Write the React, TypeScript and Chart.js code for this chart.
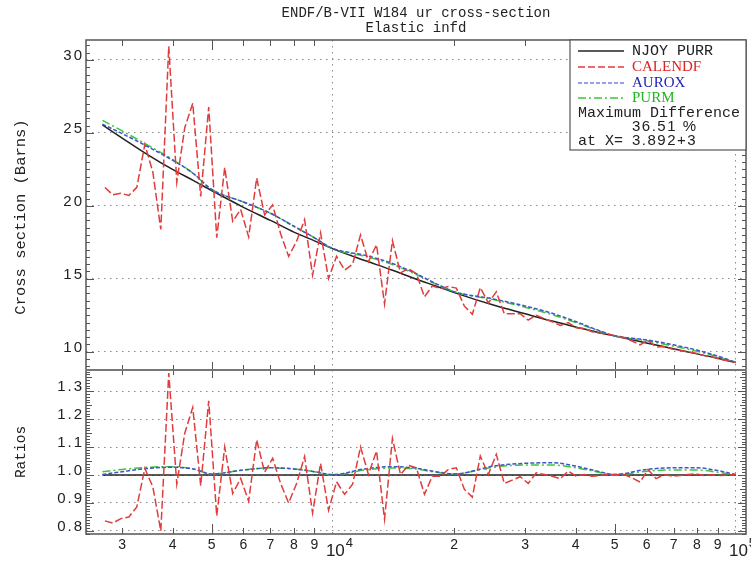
import React, { useEffect, useRef } from 'react';
import { Chart, registerables } from 'chart.js';

Chart.register(...registerables);

// ---------- text ----------
const TITLE_LINES = ['ENDF/B-VII W184 ur cross-section', 'Elastic infd'];
const Y_TITLE_TOP = 'Cross section (Barns)';
const Y_TITLE_BOTTOM = 'Ratios';
const MAX_DIFF_LABEL = 'Maximum Difference';
const MAX_DIFF_VALUE = '36.51 %';
const MAX_DIFF_AT = 'at X=';
const MAX_DIFF_X = '3.892+3';

// ---------- data ----------
const calendfEnergy = [
  2718, 2844, 2977, 3117, 3262, 3415, 3574, 3741, 3915, 4099,
  4290, 4490, 4699, 4919, 5149, 5389, 5641, 5904, 6180, 6469,
  6770, 7087, 7417, 7765, 8127, 8506, 8903, 9319, 9754, 10210,
  10690, 11190, 11710, 12250, 12830, 13430, 14050, 14710, 15390, 16110,
  16870, 17650, 18480, 19340, 20240, 21190, 22180, 23210, 24300, 25430,
  26620, 27860, 29160, 30520, 31950, 33440, 35000, 36630, 38340, 40130,
  42010, 43970, 46020, 48170, 50420, 52770, 55240, 57820, 60510, 63340,
  66300, 69390, 72630, 76020, 79570, 83290, 87180, 91250, 95500, 100000,
];
const calendfXs = [
  21.26, 20.76, 20.86, 20.71, 21.27, 24.21, 22.32, 18.38, 30.94, 21.63,
  25.36, 27.03, 20.64, 26.78, 17.81, 22.63, 18.94, 19.75, 17.87, 21.9,
  19.38, 20.06, 18.09, 16.53, 17.57, 19.06, 15.25, 18.14, 15.01, 16.54,
  15.59, 16.0, 18.0, 16.18, 17.33, 13.28, 17.61, 15.4, 15.69, 15.35,
  13.76, 14.52, 14.33, 14.47, 14.36, 13.12, 12.57, 14.4, 13.34, 14.11,
  12.6, 12.61, 12.61, 12.16, 12.5, 12.27, 12.05, 11.8, 12.0, 11.64,
  11.58, 11.37, 11.27, 11.19, 11.08, 10.97, 10.73, 10.46, 10.79, 10.32,
  10.36, 10.18, 10.08, 10.0, 9.9, 9.73, 9.65, 9.49, 9.38, 9.27,
];
const calendfRatio = [
  0.836, 0.828, 0.844, 0.85, 0.886, 1.024, 0.958, 0.8, 1.365, 0.968,
  1.15, 1.242, 0.962, 1.266, 0.854, 1.1, 0.934, 0.988, 0.906, 1.126,
  1.01, 1.06, 0.97, 0.9, 0.97, 1.066, 0.864, 1.042, 0.874, 0.976,
  0.931, 0.967, 1.101, 1.002, 1.086, 0.842, 1.131, 1.002, 1.035, 1.026,
  0.931, 0.996, 0.996, 1.02, 1.026, 0.949, 0.921, 1.068, 1.002, 1.074,
  0.97, 0.982, 0.994, 0.97, 1.008, 1.002, 0.996, 0.987, 1.014, 0.996,
  1.002, 0.996, 0.998, 1.002, 1.002, 1.002, 0.99, 0.975, 1.02, 0.987,
  1.002, 0.996, 0.998, 1.002, 1.004, 0.998, 1.002, 0.998, 1.0, 1.002,
];

const smoothEnergy = [
  2680, 3000, 3500, 4000, 4500, 5000, 6000, 7000, 8000, 9000,
  10000, 12000, 14000, 16000, 18000, 20000, 25000, 30000, 35000, 40000,
  45000, 50000, 60000, 70000, 80000, 90000, 100000,
];
const njoyXs = [
  25.55, 24.65, 23.45, 22.5, 21.75, 21.05, 19.9, 19.0, 18.2, 17.6,
  17.05, 16.25, 15.6, 15.0, 14.5, 14.05, 13.2, 12.6, 12.1, 11.7,
  11.35, 11.08, 10.6, 10.2, 9.85, 9.55, 9.25,
];
const auroxXs = [
  25.6, 24.95, 24.01, 23.13, 22.23, 21.13, 20.26, 19.49, 18.6, 17.81,
  17.08, 16.61, 16.07, 15.38, 14.67, 14.11, 13.62, 13.13, 12.63, 12.07,
  11.52, 11.1, 10.81, 10.47, 10.11, 9.7, 9.27,
];
const purmXs = [
  25.86, 25.14, 24.11, 23.18, 22.23, 21.13, 20.26, 19.49, 18.6, 17.81,
  17.05, 16.54, 15.99, 15.33, 14.65, 14.11, 13.57, 13.05, 12.54, 12.0,
  11.49, 11.08, 10.75, 10.38, 10.03, 9.65, 9.25,
];
const auroxRatio = [
  1.002, 1.012, 1.024, 1.028, 1.022, 1.004, 1.018, 1.026, 1.022, 1.012,
  1.002, 1.022, 1.03, 1.025, 1.012, 1.004, 1.032, 1.042, 1.044, 1.032,
  1.015, 1.002, 1.02, 1.026, 1.026, 1.016, 1.002,
];
const purmRatio = [
  1.012, 1.02, 1.028, 1.03, 1.022, 1.004, 1.018, 1.026, 1.022, 1.012,
  1.0, 1.018, 1.025, 1.022, 1.01, 1.004, 1.028, 1.036, 1.036, 1.026,
  1.012, 1.0, 1.014, 1.018, 1.018, 1.01, 1.0,
];
const njoyRatioEnergy = [2680, 100000];
const njoyRatio = [1.0, 1.0];

// ---------- axes ----------
const X_MIN = 2440;
const X_MAX = 105900;
const Y_TOP_MIN = 8.745;
const Y_TOP_MAX = 31.37;
const Y_BOT_MIN = 0.789;
const Y_BOT_MAX = 1.376;

const yTopTicks = [10, 15, 20, 25, 30];
const yTopTickLabels = ['10', '15', '20', '25', '30'];
const yBotTicks = [0.8, 0.9, 1.0, 1.1, 1.2, 1.3];
const yBotTickLabels = ['0.8', '0.9', '1.0', '1.1', '1.2', '1.3'];
const xMinorTicks = [3000, 4000, 5000, 6000, 7000, 8000, 9000, 20000, 30000, 40000, 50000, 60000, 70000, 80000, 90000];
const xMinorTickLabels = ['3', '4', '5', '6', '7', '8', '9', '2', '3', '4', '5', '6', '7', '8', '9'];
const xLongTicks = [5000, 50000];
const xDecades = [10000, 100000];
const xDecadeExponents = ['4', '5'];

// ---------- styles ----------
const BLACK = '#222222';
const RED = '#e03c3c';
const BLUE = '#3c56c8';
const GREEN = '#3cc43c';
const MONO = '"Liberation Mono", "DejaVu Sans Mono", monospace';
const SANS = '"Liberation Sans", Arial, sans-serif';
const SERIF = '"Liberation Serif", "DejaVu Serif", serif';

const legendEntries = [
  { label: 'NJOY PURR', color: BLACK, textColor: '#222222', dash: [] as number[], font: MONO },
  { label: 'CALENDF', color: RED, textColor: '#dd2222', dash: [7, 3], font: SERIF },
  { label: 'AUROX', color: '#7c7ce6', textColor: '#2222b4', dash: [4, 2], font: SERIF },
  { label: 'PURM', color: GREEN, textColor: '#22b422', dash: [8, 3, 2, 3], font: SERIF },
];

function line(ctx: CanvasRenderingContext2D, x1: number, y1: number, x2: number, y2: number) {
  ctx.beginPath();
  ctx.moveTo(x1, y1);
  ctx.lineTo(x2, y2);
  ctx.stroke();
}

const decorPlugin = {
  id: 'decor',
  afterDatasetsDraw(chart: any) {
    const { ctx, chartArea: a, scales } = chart;
    const xs = scales.x;
    const yt = scales.y;
    const yb = scales.y2;
    const mid = yb.top;
    ctx.save();
    ctx.setLineDash([]);
    // x tick marks (inward)
    ctx.strokeStyle = '#555';
    ctx.lineWidth = 1;
    xMinorTicks.forEach((v) => {
      const px = Math.round(xs.getPixelForValue(v)) + 0.5;
      const long = xLongTicks.includes(v);
      const len = long ? 10 : 6;
      line(ctx, px, a.top, px, a.top + len);
      line(ctx, px, mid - (long ? 8 : 5), px, mid + (long ? 8 : 5));
      line(ctx, px, a.bottom, px, a.bottom - len);
    });
    // y tick marks, upper
    for (let k = Math.ceil(Y_TOP_MIN * 2); k <= Math.floor(Y_TOP_MAX * 2); k++) {
      const v = k / 2;
      const py = Math.round(yt.getPixelForValue(v)) + 0.5;
      const len = k % 10 === 0 ? 8 : 4;
      line(ctx, a.left, py, a.left + len, py);
      line(ctx, a.right, py, a.right - len, py);
    }
    // y tick marks, lower
    for (let k = Math.ceil(Y_BOT_MIN * 100); k <= Math.floor(Y_BOT_MAX * 100); k++) {
      const py = Math.round(yb.getPixelForValue(k / 100)) + 0.5;
      const len = k % 10 === 0 ? 8 : k % 5 === 0 ? 6 : 4;
      line(ctx, a.left, py, a.left + len, py);
      line(ctx, a.right, py, a.right - len, py);
    }
    // frame
    ctx.strokeStyle = '#555';
    ctx.lineWidth = 1.5;
    ctx.strokeRect(a.left, a.top, a.right - a.left, a.bottom - a.top);
    ctx.strokeStyle = '#777';
    ctx.lineWidth = 2;
    line(ctx, a.left, mid, a.right, mid);
    ctx.restore();
  },
  afterDraw(chart: any) {
    const { ctx, chartArea: a, scales } = chart;
    const xs = scales.x;
    const yt = scales.y;
    const yb = scales.y2;
    ctx.save();
    ctx.setLineDash([]);
    ctx.fillStyle = '#222';
    // title
    ctx.font = `14px ${MONO}`;
    ctx.textAlign = 'center';
    ctx.textBaseline = 'middle';
    const cx = (a.left + a.right) / 2;
    ctx.fillText(TITLE_LINES[0], cx, 13);
    ctx.fillText(TITLE_LINES[1], cx, 28);
    // axis titles
    ctx.save();
    ctx.translate(21, (yt.top + yt.bottom) / 2 + 12);
    ctx.rotate(-Math.PI / 2);
    ctx.font = `15.5px ${MONO}`;
    ctx.fillText(Y_TITLE_TOP, 0, 0);
    ctx.restore();
    ctx.save();
    ctx.translate(21, (yb.top + yb.bottom) / 2);
    ctx.rotate(-Math.PI / 2);
    ctx.font = `14.5px ${MONO}`;
    ctx.fillText(Y_TITLE_BOTTOM, 0, 0);
    ctx.restore();
    // y tick labels
    ctx.font = `15px ${SANS}`;
    (ctx as any).letterSpacing = '2px';
    ctx.textAlign = 'right';
    yTopTicks.forEach((v, i) => {
      ctx.fillText(yTopTickLabels[i], a.left - 2, yt.getPixelForValue(v) - 4);
    });
    yBotTicks.forEach((v, i) => {
      ctx.fillText(yBotTickLabels[i], a.left - 2, yb.getPixelForValue(v) - 4);
    });
    (ctx as any).letterSpacing = '0px';
    // x tick labels
    ctx.textAlign = 'center';
    ctx.font = `14px ${SANS}`;
    xMinorTicks.forEach((v, i) => {
      ctx.fillText(xMinorTickLabels[i], xs.getPixelForValue(v), a.bottom + 11);
    });
    xDecades.forEach((v, i) => {
      const px = xs.getPixelForValue(v);
      ctx.textAlign = 'left';
      ctx.font = `17px ${SANS}`;
      const x0 = px - 7;
      ctx.fillText('10', x0, a.bottom + 17);
      const w = ctx.measureText('10').width;
      ctx.font = `13px ${SANS}`;
      ctx.fillText(xDecadeExponents[i], x0 + w + 1, a.bottom + 9);
    });
    // legend box
    const bl = a.right - 176;
    const bt = a.top;
    ctx.fillStyle = '#fff';
    ctx.fillRect(bl, bt, a.right - bl, 110);
    ctx.strokeStyle = '#555';
    ctx.lineWidth = 1.2;
    ctx.strokeRect(bl, bt, a.right - bl, 110);
    const rows = [11, 27, 43, 58];
    legendEntries.forEach((e, i) => {
      const y = bt + rows[i];
      ctx.strokeStyle = e.color;
      ctx.lineWidth = 1.5;
      ctx.setLineDash(e.dash);
      line(ctx, bl + 8, y, bl + 54, y);
      ctx.setLineDash([]);
      ctx.fillStyle = e.textColor;
      ctx.textAlign = 'left';
      ctx.textBaseline = 'middle';
      ctx.font = `15px ${e.font}`;
      ctx.fillText(e.label, bl + 62, y);
    });
    ctx.fillStyle = '#222';
    ctx.font = `15px ${MONO}`;
    ctx.fillText(MAX_DIFF_LABEL, bl + 8, bt + 73);
    ctx.font = `15px ${SANS}`;
    (ctx as any).letterSpacing = '1.5px';
    ctx.fillText(MAX_DIFF_VALUE, bl + 62, bt + 87);
    (ctx as any).letterSpacing = '0px';
    ctx.font = `15px ${MONO}`;
    ctx.fillText(MAX_DIFF_AT, bl + 8, bt + 101);
    ctx.font = `15px ${SANS}`;
    (ctx as any).letterSpacing = '1.5px';
    ctx.fillText(MAX_DIFF_X, bl + 62, bt + 101);
    (ctx as any).letterSpacing = '0px';
    ctx.restore();
  },
};

const pts = (xs: number[], ys: number[]) => xs.map((x, i) => ({ x, y: ys[i] }));

export default function App() {
  const ref = useRef<HTMLCanvasElement>(null);
  useEffect(() => {
    if (!ref.current) return;
    const dotted = [1.5, 4.5];
    const chart = new Chart(ref.current, {
      type: 'line',
      data: {
        datasets: [
          { label: 'CALENDF', data: pts(calendfEnergy, calendfXs), yAxisID: 'y', borderColor: RED, borderDash: [8, 3], borderWidth: 1.5 },
          { label: 'AUROX', data: pts(smoothEnergy, auroxXs), yAxisID: 'y', borderColor: BLUE, borderDash: [4, 2], borderWidth: 1.5, cubicInterpolationMode: 'monotone' },
          { label: 'PURM', data: pts(smoothEnergy, purmXs), yAxisID: 'y', borderColor: GREEN, borderDash: [8, 3, 2, 3], borderWidth: 1.5, cubicInterpolationMode: 'monotone' },
          { label: 'NJOY PURR', data: pts(smoothEnergy, njoyXs), yAxisID: 'y', borderColor: BLACK, borderWidth: 1.5, cubicInterpolationMode: 'monotone' },
          { label: 'CALENDF ratio', data: pts(calendfEnergy, calendfRatio), yAxisID: 'y2', borderColor: RED, borderDash: [8, 3], borderWidth: 1.5 },
          { label: 'AUROX ratio', data: pts(smoothEnergy, auroxRatio), yAxisID: 'y2', borderColor: BLUE, borderDash: [4, 2], borderWidth: 1.5, cubicInterpolationMode: 'monotone' },
          { label: 'PURM ratio', data: pts(smoothEnergy, purmRatio), yAxisID: 'y2', borderColor: GREEN, borderDash: [8, 3, 2, 3], borderWidth: 1.5, cubicInterpolationMode: 'monotone' },
          { label: 'NJOY ratio', data: pts(njoyRatioEnergy, njoyRatio), yAxisID: 'y2', borderColor: BLACK, borderWidth: 1.5 },
        ] as any,
      },
      options: {
        animation: false,
        responsive: true,
        maintainAspectRatio: false,
        layout: { padding: { top: 40, right: 5, left: 0, bottom: 0 } },
        elements: { point: { radius: 0 } },
        plugins: { legend: { display: false }, title: { display: false }, tooltip: { enabled: false } },
        scales: {
          x: {
            type: 'logarithmic',
            position: 'bottom',
            min: X_MIN,
            max: X_MAX,
            bounds: 'data',
            afterBuildTicks: (s: any) => { s.ticks = xDecades.map((v) => ({ value: v })); },
            afterFit: (s: any) => { s.height = 27; },
            ticks: { display: false },
            grid: { color: '#8a8a8a', lineWidth: 1, drawTicks: false },
            border: { display: false, dash: dotted },
          },
          // the lower (ratio) axis is listed first so that the stacked layout puts it at the bottom
          y2: {
            type: 'linear',
            position: 'left',
            stack: 'v',
            stackWeight: 164,
            min: Y_BOT_MIN,
            max: Y_BOT_MAX,
            afterBuildTicks: (s: any) => { s.ticks = yBotTicks.map((v) => ({ value: v })); },
            afterFit: (s: any) => { s.width = 86; },
            ticks: { display: false },
            grid: { color: '#8a8a8a', lineWidth: 1, drawTicks: false },
            border: { display: false, dash: dotted },
          },
          y: {
            type: 'linear',
            position: 'left',
            stack: 'v',
            stackWeight: 330,
            min: Y_TOP_MIN,
            max: Y_TOP_MAX,
            afterBuildTicks: (s: any) => { s.ticks = yTopTicks.map((v) => ({ value: v })); },
            afterFit: (s: any) => { s.width = 86; },
            ticks: { display: false },
            grid: { color: '#8a8a8a', lineWidth: 1, drawTicks: false },
            border: { display: false, dash: dotted },
          },
        },
      } as any,
      plugins: [decorPlugin],
    });
    return () => chart.destroy();
  }, []);
  return (
    <div style={{ position: 'fixed', left: 0, top: 0, width: 751, height: 561, background: '#fff' }}>
      <canvas ref={ref} />
    </div>
  );
}
